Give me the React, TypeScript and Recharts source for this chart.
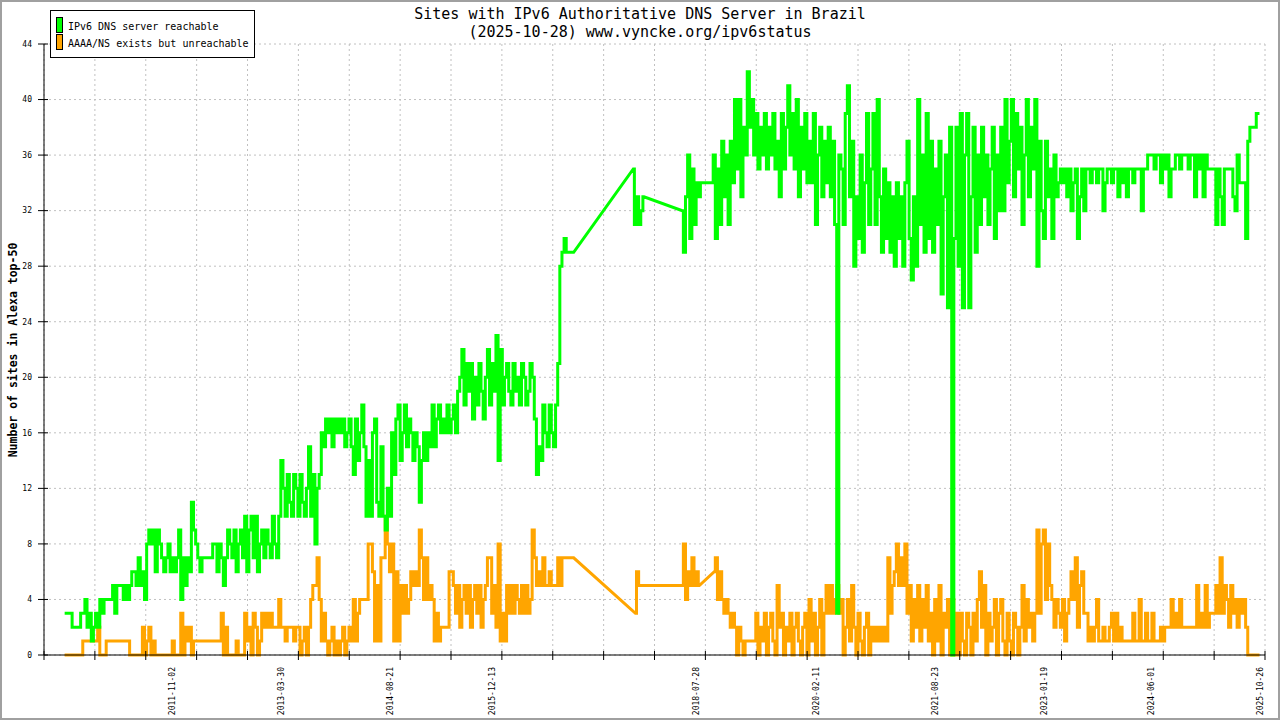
import { LineChart, Line, XAxis, YAxis, CartesianGrid } from 'recharts'

const MONO = '"DejaVu Sans Mono", "Liberation Mono", monospace'
const DAY = 86400000

// x axis extent and sampling of the series
const X_START = '2010-03-10'
const X_END = '2025-11-19'
const FIRST_SAMPLE = '2010-06-15'
const STEP_DAYS = 10

const DATE_LABELS = [
  '2011-11-02', '2013-03-30', '2014-08-21', '2015-12-13', '2018-07-28',
  '2020-02-11', '2021-08-23', '2023-01-19', '2024-06-01', '2025-10-26',
]
const Y_TICKS = [0, 4, 8, 12, 16, 20, 24, 28, 32, 36, 40, 44]

const n = null

// IPv6 DNS server reachable (one value every STEP_DAYS, null = no data)
const reachable = [
  3, 3, 3, 3, 2, 2, 2, 2, 3, 3, 4, 2, 3, 1, 2, 3, 2, 4, 3, 4,
  4, 4, 4, 5, 3, 5, 5, 5, 4, 5, 4, 5, 6, 6, 5, 7, 5, 6, 4, 8,
  9, 8, 9, 6, 9, 8, 7, 6, 7, 8, 6, 7, 6, 7, 9, 4, 7, 5, 7, 6,
  11, 9, 8, 7, 6, 7, 7, 7, 7, 7, 8, 8, 6, 8, 7, 5, 7, 9, 8, 7,
  9, 6, 8, 9, 7, 10, 6, 9, 10, 7, 10, 6, 8, 9, 7, 9, 8, 7, 10, 8,
  7, 10, 14, 12, 10, 13, 11, 10, 13, 12, 10, 13, 11, 10, 12, 15, 10, 13, 8, 12,
  13, 16, 15, 17, 16, 17, 15, 17, 16, 17, 16, 17, 15, 16, 17, 15, 13, 17, 14, 16,
  18, 15, 10, 14, 10, 16, 17, 11, 10, 15, 10, 9, 12, 10, 16, 13, 17, 18, 14, 16,
  18, 15, 17, 16, 14, 16, 15, 11, 14, 16, 14, 16, 15, 18, 15, 17, 18, 16, 17, 16,
  18, 16, 17, 18, 16, 19, 20, 22, 18, 21, 19, 21, 17, 20, 18, 21, 19, 17, 20, 22,
  18, 21, 19, 23, 14, 22, 18, 20, 21, 19, 18, 21, 19, 20, 18, 21, 20, 18, 19, 21,
  20, 17, 13, 15, 14, 18, 16, 15, 18, 16, 15, 18, 21, 28, 29, 30, 29, 29, 29, 29,
  n, n, n, n, n, n, n, n, n, n, n, n, n, n, n, n, n, n, n, n,
  n, n, n, n, n, n, n, 35, 31, 33, 31, 32, 33, n, n, n, n, n, n, n,
  n, n, n, n, n, n, n, n, n, n, 32, 29, 33, 36, 30, 35, 31, 34, 33, 34,
  34, 34, 34, 34, 34, 36, 30, 35, 31, 37, 33, 36, 31, 37, 34, 40, 35, 40, 33, 38,
  36, 42, 38, 40, 36, 39, 35, 38, 36, 39, 35, 38, 36, 39, 35, 37, 33, 39, 35, 38,
  41, 36, 39, 35, 40, 33, 38, 35, 39, 34, 37, 34, 39, 31, 36, 38, 33, 37, 34, 38,
  33, 37, 31, 3, 36, 35, 31, 39, 41, 33, 37, 28, 33, 30, 36, 29, 34, 39, 31, 35,
  39, 31, 40, 33, 29, 35, 30, 34, 29, 33, 28, 34, 30, 33, 28, 34, 37, 30, 27, 33,
  28, 40, 31, 36, 29, 39, 30, 37, 29, 35, 31, 37, 26, 33, 36, 25, 38, 0, 30, 38,
  28, 39, 25, 36, 39, 25, 33, 38, 29, 36, 31, 38, 33, 36, 31, 35, 38, 30, 36, 32,
  38, 32, 40, 34, 37, 40, 33, 39, 35, 38, 31, 36, 40, 33, 38, 35, 40, 28, 37, 32,
  30, 37, 33, 35, 30, 36, 33, 34, 35, 34, 35, 33, 35, 32, 34, 35, 30, 33, 35, 32,
  35, 35, 34, 35, 35, 34, 35, 35, 32, 34, 35, 35, 34, 35, 35, 33, 35, 34, 35, 33,
  35, 35, 34, 35, 35, 35, 32, 35, 35, 36, 36, 36, 35, 36, 36, 34, 36, 35, 36, 33,
  35, 35, 36, 36, 35, 36, 36, 36, 35, 36, 36, 33, 36, 35, 36, 33, 36, 35, 35, 35,
  35, 31, 35, 33, 31, 35, 35, 35, 35, 33, 32, 36, 34, 34, 34, 30, 37, 38, 38, 38,
  39, 39,
]

// AAAA/NS exists but unreachable
const unreachable = [
  0, 0, 0, 0, 0, 0, 0, 0, 0, 1, 1, 1, 1, 1, 1, 1, 2, 0, 0, 0,
  1, 1, 1, 1, 1, 1, 1, 1, 1, 1, 1, 0, 0, 0, 0, 0, 0, 2, 0, 1,
  2, 0, 1, 0, 0, 0, 0, 0, 0, 0, 0, 1, 0, 0, 0, 3, 0, 2, 1, 2,
  0, 1, 1, 1, 1, 1, 1, 1, 1, 1, 1, 1, 1, 1, 3, 0, 2, 0, 0, 0,
  0, 1, 0, 0, 0, 3, 1, 2, 0, 3, 2, 0, 1, 3, 2, 3, 2, 3, 2, 2,
  2, 4, 2, 2, 1, 2, 2, 2, 1, 2, 2, 0, 1, 2, 0, 2, 4, 5, 5, 7,
  4, 1, 3, 1, 0, 1, 2, 0, 1, 0, 1, 2, 0, 1, 2, 1, 4, 1, 3, 4,
  4, 4, 4, 8, 8, 6, 1, 5, 1, 7, 7, 10, 8, 6, 8, 1, 6, 1, 5, 3,
  5, 3, 4, 6, 5, 6, 5, 9, 7, 4, 7, 4, 5, 4, 1, 3, 1, 2, 2, 2,
  2, 6, 6, 5, 3, 5, 2, 4, 5, 3, 5, 2, 4, 5, 3, 5, 2, 4, 5, 7,
  7, 3, 5, 2, 8, 1, 3, 1, 5, 3, 5, 3, 5, 4, 3, 5, 3, 5, 3, 4,
  9, 7, 5, 6, 5, 7, 5, 5, 6, 5, 5, 5, 7, 5, 7, 7, 7, 7, 7, 7,
  n, n, n, n, n, n, n, n, n, n, n, n, n, n, n, n, n, n, n, n,
  n, n, n, n, n, n, n, n, 3, 6, 5, 5, 5, 5, 5, 5, 5, 5, 5, 5,
  5, 5, 5, 5, 5, 5, 5, 5, 5, 5, 5, 8, 4, 6, 5, 7, 5, 6, 5, n,
  n, n, n, n, n, 6, 7, 4, 6, 4, 3, 4, 3, 2, 3, 2, 0, 2, 1, 0,
  1, 1, 1, 1, 1, 3, 0, 2, 1, 3, 0, 2, 3, 1, 0, 5, 2, 3, 0, 2,
  1, 3, 0, 2, 3, 1, 0, 2, 3, 0, 4, 1, 3, 0, 2, 4, 0, 3, 5, 3,
  5, 3, 4, 5, 3, 4, 0, 2, 4, 1, 5, 2, 0, 3, 1, 0, 2, 3, 0, 2,
  1, 2, 1, 2, 1, 2, 1, 7, 3, 5, 6, 8, 5, 7, 5, 8, 3, 5, 1, 4,
  2, 5, 1, 4, 2, 5, 1, 3, 0, 4, 1, 5, 0, 3, 2, 4, 0, 4, 0, 3,
  0, 3, 1, 0, 3, 2, 0, 3, 1, 4, 6, 2, 5, 0, 3, 1, 2, 4, 0, 3,
  4, 1, 0, 3, 1, 0, 3, 2, 0, 2, 5, 1, 4, 2, 3, 1, 3, 9, 3, 8,
  9, 4, 8, 5, 4, 2, 4, 3, 2, 4, 1, 3, 4, 6, 4, 7, 2, 5, 6, 3,
  3, 1, 2, 1, 2, 4, 1, 1, 2, 1, 1, 2, 3, 1, 3, 1, 2, 1, 1, 1,
  1, 1, 3, 1, 1, 4, 1, 1, 3, 1, 1, 3, 1, 1, 1, 2, 1, 2, 2, 2,
  4, 2, 3, 2, 4, 2, 2, 2, 2, 2, 2, 2, 5, 2, 3, 2, 5, 2, 3, 3,
  3, 5, 3, 7, 3, 5, 4, 2, 5, 3, 4, 2, 4, 3, 4, 2, 0, 0, 0, 0,
  0, 0,
]

const xMin = Date.parse(X_START)
const xMax = Date.parse(X_END)
const gridTicks = Array.from({ length: 25 }, (_, k) => xMin + (k * (xMax - xMin)) / 24)
const labelTicks = DATE_LABELS.map((d) => Date.parse(d))

const t0 = Date.parse(FIRST_SAMPLE)
const data = reachable.map((v, i) => ({
  t: t0 + i * STEP_DAYS * DAY,
  reachable: v,
  unreachable: unreachable[i],
}))

// d3-style curve: steps between neighbouring samples, straight line across data gaps
function stepBridgeGaps(context: any) {
  let px = 0
  let py = 0
  let started = false
  return {
    areaStart() {},
    areaEnd() {},
    lineStart() {
      started = false
    },
    lineEnd() {},
    point(xv: number, yv: number) {
      const x = +xv
      const y = +yv
      if (!started) {
        context.moveTo(x, y)
        started = true
      } else if (x - px > 6) {
        context.lineTo(x, y)
      } else {
        const mx = (px + x) / 2
        context.lineTo(mx, py)
        context.lineTo(mx, y)
        context.lineTo(x, y)
      }
      px = x
      py = y
    },
  }
}

function GridTick({ x, y }: any) {
  return <line x1={x} x2={x} y1={y - 4} y2={y + 5} stroke="#000" />
}

function DateTick({ x, y, payload }: any) {
  const label = new Date(payload.value).toISOString().slice(0, 10)
  return (
    <text
      transform={`translate(${x},${y + 2}) rotate(-90)`}
      textAnchor="end"
      dy="0.35em"
      fontSize={8}
      fontFamily={MONO}
      fill="#000"
    >
      {label}
    </text>
  )
}

function ValueTick({ x, y, payload }: any) {
  return (
    <g>
      <line x1={x - 6} x2={x + 4} y1={y} y2={y} stroke="#000" />
      <text x={x - 12} y={y} dy="0.35em" textAnchor="end" fontSize={8} fontFamily={MONO} fill="#000">
        {payload.value}
      </text>
    </g>
  )
}

export default function App() {
  return (
    <div style={{ position: 'absolute', left: 0, top: 0, width: 1280, height: 720, background: '#fff' }}>
      <LineChart width={1280} height={720} data={data} margin={{ top: 44, right: 15, bottom: 0, left: 0 }}>
        <CartesianGrid xAxisId="a0" yAxisId="l" stroke="#c0c0c0" strokeDasharray="2 3" />
        <XAxis
          xAxisId="a0"
          type="number"
          dataKey="t"
          domain={[xMin, xMax]}
          allowDataOverflow
          ticks={gridTicks}
          interval={0}
          height={10}
          tickSize={0}
          tickMargin={0}
          tickLine={false}
          axisLine={{ stroke: '#000' }}
          tick={(p: any) => <GridTick {...p} />}
        />
        <XAxis
          xAxisId="a1"
          type="number"
          dataKey="t"
          domain={[xMin, xMax]}
          allowDataOverflow
          ticks={labelTicks}
          interval={0}
          height={55}
          tickSize={0}
          tickMargin={0}
          tickLine={false}
          axisLine={false}
          tick={(p: any) => <DateTick {...p} />}
        />
        <YAxis
          yAxisId="l"
          width={44}
          domain={[0, 44]}
          ticks={Y_TICKS}
          interval={0}
          tickSize={0}
          tickMargin={0}
          tickLine={false}
          axisLine={{ stroke: '#000' }}
          tick={(p: any) => <ValueTick {...p} />}
        />
        <YAxis yAxisId="r" orientation="right" width={0} domain={[0, 44]} tick={false} tickLine={false} axisLine={{ stroke: '#000' }} />
        <Line
          xAxisId="a0"
          yAxisId="l"
          type={stepBridgeGaps as any}
          dataKey="unreachable"
          stroke="#ffa500"
          strokeWidth={3}
          dot={false}
          connectNulls
          isAnimationActive={false}
        />
        <Line
          xAxisId="a0"
          yAxisId="l"
          type={stepBridgeGaps as any}
          dataKey="reachable"
          stroke="#00ff00"
          strokeWidth={3}
          dot={false}
          connectNulls
          isAnimationActive={false}
        />
      </LineChart>

      <svg width={1280} height={720} style={{ position: 'absolute', left: 0, top: 0, pointerEvents: 'none' }}>
        <rect x={1} y={1} width={1278} height={718} fill="none" stroke="#a0a0a0" strokeWidth={2} />
        <text x={640} y={19} textAnchor="middle" fontSize={15} fontFamily={MONO} fill="#000">
          Sites with IPv6 Authoritative DNS Server in Brazil
        </text>
        <text x={640} y={37} textAnchor="middle" fontSize={15} fontFamily={MONO} fill="#000">
          (2025-10-28) www.vyncke.org/ipv6status
        </text>
        <text
          transform="translate(13,350) rotate(-90)"
          textAnchor="middle"
          dy="0.35em"
          fontSize={11.5}
          fontWeight="bold"
          fontFamily={MONO}
          fill="#000"
        >
          Number of sites in Alexa top-50
        </text>
        <rect x={50.5} y={10.5} width={204} height={47} fill="#fff" stroke="#000" />
        <rect x={56.5} y={17.5} width={6} height={15} fill="#00ff00" stroke="#000" />
        <rect x={56.5} y={34.5} width={6} height={15} fill="#ffa500" stroke="#000" />
        <text x={68} y={30} fontSize={10} fontFamily={MONO} fill="#000">
          IPv6 DNS server reachable
        </text>
        <text x={68} y={47} fontSize={10} fontFamily={MONO} fill="#000">
          AAAA/NS exists but unreachable
        </text>
      </svg>
    </div>
  )
}
